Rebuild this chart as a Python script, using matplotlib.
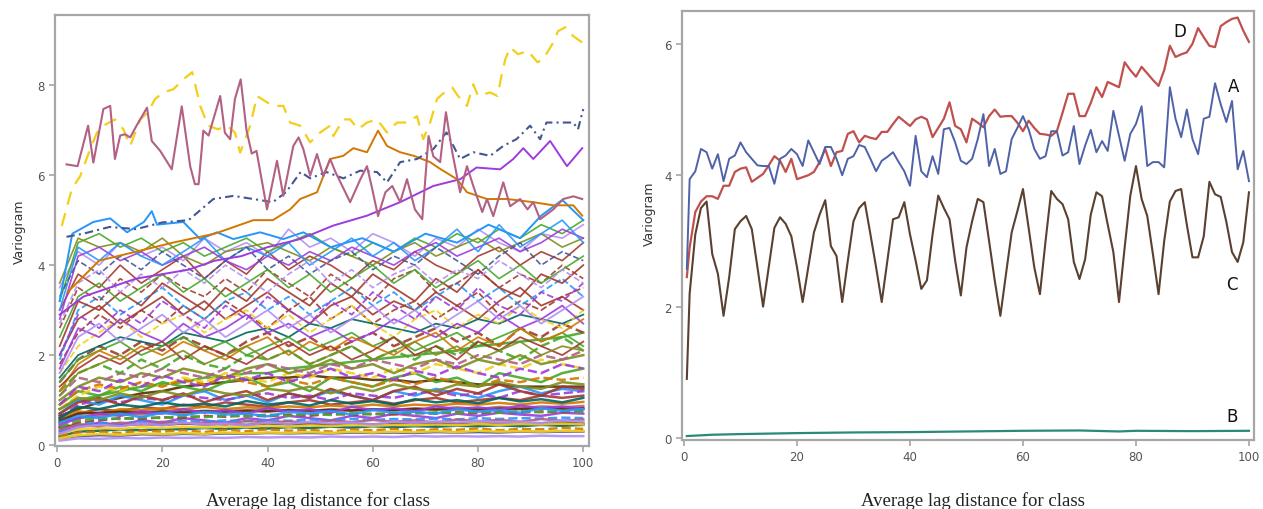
import matplotlib
matplotlib.use("Agg")
import matplotlib.pyplot as plt

# ---------------- right panel: four selected variograms ----------------
lag = [0.5] + list(range(1, 101))

series_a = [2.57, 3.94, 4.06, 4.4, 4.35, 4.1, 4.32, 3.91, 4.25, 4.3, 4.5,
            4.35, 4.25, 4.15, 4.14, 4.14, 3.87, 4.25, 4.3, 4.4, 4.32,
            4.14, 4.53, 4.35, 4.17, 4.43, 4.43, 4.25, 4.0, 4.25, 4.29,
            4.46, 4.43, 4.25, 4.06, 4.22, 4.28, 4.35, 4.2, 4.06, 3.84,
            4.6, 4.06, 3.97, 4.29, 4.02, 4.7, 4.72, 4.5, 4.22, 4.17,
            4.25, 4.55, 4.93, 4.14, 4.4, 4.02, 4.06, 4.55, 4.72, 4.9,
            4.7, 4.4, 4.25, 4.29, 4.67, 4.67, 4.3, 4.35, 4.75, 4.17,
            4.45, 4.69, 4.35, 4.52, 4.37, 4.98, 4.6, 4.22, 4.63, 4.78,
            5.05, 4.14, 4.2, 4.2, 4.12, 5.34, 4.86, 4.58, 5.0, 4.55,
            4.32, 4.86, 4.89, 5.4, 5.08, 4.81, 5.13, 4.09, 4.37, 3.91]

series_c = [0.9, 2.2, 3.1, 3.5, 3.6, 2.8, 2.5, 1.86, 2.45, 3.18, 3.3,
            3.38, 3.18, 2.6, 2.0, 2.6, 3.2, 3.36, 3.26, 3.07, 2.6,
            2.07, 2.6, 3.13, 3.4, 3.62, 2.92, 2.77, 2.07, 2.7, 3.3,
            3.5, 3.59, 3.1, 2.6, 2.07, 2.7, 3.33, 3.36, 3.59, 3.1,
            2.7, 2.27, 2.4, 3.1, 3.69, 3.5, 3.33, 2.7, 2.17, 2.9,
            3.3, 3.64, 3.59, 3.0, 2.4, 1.86, 2.5, 3.13, 3.45, 3.79,
            3.2, 2.6, 2.19, 3.0, 3.76, 3.64, 3.56, 3.33, 2.68, 2.42,
            2.72, 3.4, 3.74, 3.68, 3.25, 2.83, 2.07, 2.9, 3.69, 4.14,
            3.64, 3.38, 2.8, 2.19, 3.0, 3.6, 3.76, 3.79, 3.25, 2.75,
            2.75, 3.07, 3.9, 3.71, 3.67, 3.29, 2.83, 2.68, 2.98, 3.74]

series_d = [2.45, 2.9, 3.44, 3.6, 3.68, 3.68, 3.64, 3.84, 3.84, 4.05, 4.1,
            4.12, 3.9, 3.96, 4.02, 4.15, 4.29, 4.22, 4.05, 4.25, 3.94,
            3.97, 4.0, 4.05, 4.2, 4.4, 4.14, 4.35, 4.37, 4.63, 4.67,
            4.5, 4.6, 4.57, 4.55, 4.66, 4.66, 4.78, 4.89, 4.82, 4.75,
            4.85, 4.89, 4.85, 4.58, 4.72, 4.86, 5.11, 4.75, 4.7, 4.5,
            4.86, 4.8, 4.73, 4.9, 5.0, 4.89, 4.9, 4.9, 4.8, 4.67,
            4.83, 4.72, 4.63, 4.62, 4.6, 4.67, 4.95, 5.24, 5.24, 4.9,
            4.9, 5.1, 5.34, 5.19, 5.42, 5.38, 5.34, 5.72, 5.6, 5.5,
            5.65, 5.55, 5.45, 5.36, 5.6, 5.97, 5.8, 5.84, 5.87, 6.0,
            6.24, 6.1, 5.97, 5.95, 6.27, 6.33, 6.38, 6.4, 6.2, 6.03]

lag_b = [0.5, 5, 10, 20, 30, 40, 50, 60, 70, 77, 80, 90, 100]
series_b = [0.03, 0.05, 0.06, 0.075, 0.085, 0.09, 0.1, 0.11, 0.115, 0.1,
            0.11, 0.105, 0.11]

# ---------------- left panel: all variograms ----------------
# prominent upper curves, each with its own lag positions
pink_x = [1.8, 3.9, 5.9, 6.9, 8.8, 10.1, 11, 12, 12.9, 13.9, 15.1, 17.1, 18,
          19.6, 21.8, 23.7, 25.3, 26.2, 26.9, 27.8, 28.8, 31, 31.9, 32.9,
          33.8, 34.9, 36, 37, 37.9, 39.9, 41.8, 43, 44.9, 45.9, 46.8, 48.1,
          49.4, 50.6, 51.9, 52.9, 54.2, 55.7, 57.6, 58.9, 59.9, 61, 62.4,
          63.7, 65.2, 66.5, 68, 69.4, 70.6, 71.5, 72.8, 73.9, 75.1, 76.6,
          77.9, 79.1, 80.8, 81.7, 82.9, 84.8, 86.1, 88, 89.4, 90.5, 91.8,
          94.3, 96.2, 98.1, 99.8]
pink_y = [6.24, 6.2, 7.1, 6.28, 7.47, 7.54, 6.36, 6.88, 6.91, 6.84, 7.1,
          7.5, 6.76, 6.54, 6.13, 7.53, 6.2, 5.8, 5.8, 6.99, 6.88, 7.76,
          6.94, 6.8, 7.69, 8.13, 7.0, 6.48, 6.54, 5.24, 6.32, 5.54, 6.65,
          6.84, 6.58, 5.99, 6.47, 5.98, 6.36, 6.07, 5.76, 5.4, 5.9, 6.2,
          5.69, 5.09, 5.62, 5.76, 5.4, 5.91, 5.24, 5.02, 6.87, 6.42, 6.29,
          7.4, 6.51, 5.62, 6.2, 5.76, 5.18, 5.47, 5.09, 5.84, 5.31, 5.47,
          5.24, 5.4, 5.02, 5.24, 5.47, 5.53, 5.47]

yellow_x = [0.9, 2.8, 4.4, 6.3, 7.6, 8.8, 11, 12.6, 13.9, 15.8, 17.3, 18.6,
            20.2, 22.1, 24, 25.7, 27.2, 28.7, 30.6, 32.3, 33.8, 34.8, 36.7,
            38, 39.9, 41.1, 43, 44.3, 46.2, 48.1, 50, 51.9, 52.5, 54.4,
            55.7, 57.2, 58.9, 60.8, 62.7, 64.6, 66.5, 68.4, 69.6, 70.9,
            72.2, 73.2, 75.1, 76.2, 77.9, 79.1, 80, 82.3, 83.7, 84.6, 85.2,
            86.1, 87.6, 89.5, 91.3, 92.4, 94.3, 95.2, 96.6, 98.1, 99.8]
yellow_y = [4.87, 5.69, 5.98, 6.58, 6.95, 7.1, 7.24, 7.02, 6.65, 7.24, 7.4,
            7.69, 7.84, 7.91, 8.13, 8.29, 7.54, 7.1, 7.02, 7.1, 6.95, 6.5,
            7.1, 7.76, 7.62, 7.54, 7.54, 7.17, 7.1, 6.73, 6.95, 7.1, 6.87,
            7.24, 7.24, 7.02, 7.17, 7.24, 6.95, 7.17, 7.17, 7.31, 6.8, 7.17,
            7.69, 7.8, 7.95, 7.76, 7.54, 8.02, 7.76, 7.84, 7.76, 8.29, 8.58,
            8.84, 8.69, 8.76, 8.51, 8.58, 8.95, 9.2, 9.29, 9.09, 8.95]

navy_x = [1.8, 5, 10, 15, 20, 25, 29.7, 33.5, 37.3, 41, 43.5, 46.3, 48.1,
          51.2, 54.4, 57.6, 60.8, 62.7, 65.2, 68.4, 71.5, 74, 76.6, 79.1,
          82.3, 84.8, 87.3, 89.9, 91.8, 93, 95.5, 98.1, 99, 100]
navy_y = [4.63, 4.7, 4.85, 4.8, 4.95, 5.0, 5.47, 5.54, 5.47, 5.4, 5.62,
          6.07, 5.93, 6.07, 5.93, 6.1, 6.07, 5.84, 6.29, 6.36, 6.58, 6.95,
          6.36, 6.51, 6.43, 6.65, 6.8, 7.1, 6.8, 7.17, 7.17, 7.17, 7.02,
          7.47]

orange_x = [2, 8, 15, 22, 30, 37.3, 41, 44.3, 46.2, 49.4, 51.9, 54.4, 56.3,
            58.9, 61, 62.7, 65.2, 67.8, 70.9, 72.8, 76, 77.9, 81.7, 85.5,
            90.5, 94.3, 98.1, 99.8]
orange_y = [3.4, 4.1, 4.3, 4.5, 4.7, 5.0, 5.0, 5.24, 5.47, 5.62, 6.36, 6.43,
            6.6, 6.51, 6.99, 6.65, 6.51, 6.43, 6.29, 6.14, 5.91, 5.62, 5.47,
            5.47, 5.4, 5.33, 5.33, 5.1]

violet_x = [0.5, 5, 10, 15, 20, 25, 30, 35, 40, 46.2, 52.5, 58.9, 65.2,
            71.5, 76.6, 79.7, 84.2, 86.7, 88.6, 90.5, 93.7, 96.9, 99.8]
violet_y = [2.9, 3.3, 3.5, 3.7, 3.8, 3.9, 4.1, 4.2, 4.4, 4.58, 4.88, 5.1,
            5.4, 5.76, 5.91, 6.17, 6.13, 6.36, 6.6, 6.36, 6.76, 6.2, 6.6]

sky_x = [0.5, 2.9, 6.9, 10.1, 13.3, 16.5, 18, 19, 24, 27.2, 30.4, 33.5,
         38.6, 43, 46.8, 52, 58, 64, 70, 76, 82, 88, 92, 96, 100]
sky_y = [3.2, 4.7, 4.96, 5.04, 4.73, 4.96, 5.2, 4.9, 4.96, 4.58, 4.73, 4.58,
         4.73, 4.58, 4.73, 4.4, 4.6, 4.3, 4.7, 4.5, 4.9, 4.6, 5.1, 5.45, 5.0]

# background curves on a common lag grid
lag_bg = [0.5] + list(range(4, 101, 4))

upper_band = [
    [3.0, 3.8, 3.5, 4.0, 3.6, 3.9, 4.2, 3.7, 4.1, 3.8, 4.3, 3.9, 4.2, 4.0, 3.7, 4.1, 3.9, 4.3, 4.0, 3.8, 4.2, 4.4, 4.0, 4.3, 4.1, 4.5],
    [3.5, 4.3, 4.0, 4.5, 4.2, 4.4, 4.1, 4.6, 4.3, 4.5, 4.2, 4.8, 4.4, 4.6, 4.3, 4.7, 4.5, 4.2, 4.6, 4.4, 4.8, 4.5, 4.3, 4.7, 4.6, 4.9],
    [3.2, 4.5, 4.7, 4.4, 4.6, 4.3, 4.5, 4.2, 4.4, 4.6, 4.3, 4.5, 4.7, 4.4, 4.2, 4.5, 4.3, 4.6, 4.4, 4.7, 4.5, 4.8, 4.6, 4.9, 4.7, 5.0],
    [3.6, 4.6, 4.4, 4.5, 4.3, 4.6, 4.2, 4.0, 4.3, 4.4, 4.5, 4.3, 4.1, 4.4, 4.2, 4.0, 4.3, 4.5, 4.2, 4.4, 4.6, 4.3, 4.5, 4.7, 4.4, 4.6],
    [2.8, 4.2, 4.4, 4.1, 4.3, 4.0, 4.2, 4.4, 4.1, 3.9, 4.2, 4.0, 4.3, 4.1, 4.4, 4.2, 4.0, 4.3, 4.5, 4.2, 4.4, 4.6, 4.3, 4.5, 4.8, 4.6],
    [3.0, 4.4, 4.1, 4.5, 4.2, 4.0, 4.3, 4.6, 4.1, 4.4, 4.2, 4.5, 4.0, 4.3, 4.6, 4.2, 4.5, 4.1, 4.4, 4.8, 4.3, 4.9, 4.4, 4.7, 5.0, 4.5],
    [3.3, 4.1, 3.8, 4.2, 3.9, 4.3, 4.0, 3.7, 4.1, 4.4, 3.9, 4.2, 3.8, 4.1, 4.3, 3.9, 4.2, 4.0, 4.4, 4.1, 3.8, 4.2, 4.5, 4.0, 4.3, 4.1],
    [2.6, 3.5, 3.2, 3.7, 3.4, 3.8, 3.5, 3.3, 3.7, 3.4, 3.9, 3.6, 3.3, 3.8, 3.5, 3.2, 3.7, 3.9, 3.4, 3.6, 3.9, 3.5, 3.8, 3.6, 4.0, 3.7],
    [2.4, 3.3, 3.6, 3.2, 3.5, 3.8, 3.4, 3.7, 3.3, 3.6, 3.9, 3.5, 3.8, 3.4, 3.7, 4.0, 3.6, 3.9, 3.5, 3.8, 4.1, 3.7, 4.0, 3.6, 3.9, 4.2],
    [2.7, 3.6, 3.9, 3.4, 3.8, 3.5, 3.9, 3.6, 4.0, 3.7, 3.4, 3.8, 4.1, 3.6, 3.9, 3.5, 3.8, 4.0, 3.6, 3.9, 3.7, 4.1, 3.8, 3.5, 3.9, 3.6],
]

mid_band = [
    [2.0, 2.8, 3.1, 2.7, 3.0, 3.3, 2.9, 3.2, 2.8, 3.1, 3.4, 3.0, 2.7, 3.1, 3.3, 2.9, 3.2, 3.0, 3.4, 3.1, 2.8, 3.2, 3.5, 3.1, 3.3, 3.0],
    [1.8, 2.5, 2.9, 2.6, 3.0, 2.7, 3.1, 2.8, 3.2, 2.9, 2.6, 3.0, 3.3, 2.8, 3.1, 2.7, 3.0, 3.2, 2.8, 3.1, 3.4, 2.9, 3.2, 3.0, 3.3, 3.5],
    [1.5, 2.0, 2.2, 2.4, 2.3, 2.2, 2.5, 2.4, 2.3, 2.5, 2.6, 2.4, 2.7, 2.6, 2.8, 2.7, 2.6, 2.5, 2.7, 2.6, 2.8, 2.7, 2.9, 2.8, 2.7, 2.9],
    [1.6, 2.2, 2.5, 2.8, 2.4, 2.7, 2.9, 2.5, 2.8, 3.0, 2.6, 2.9, 2.5, 2.8, 3.1, 2.7, 2.4, 2.8, 3.0, 2.6, 2.9, 2.7, 3.1, 2.8, 2.6, 3.0],
    [1.4, 1.9, 2.1, 2.3, 2.0, 2.2, 2.4, 2.1, 2.3, 2.0, 2.2, 2.4, 2.1, 2.3, 2.5, 2.2, 2.4, 2.1, 2.3, 2.5, 2.2, 2.4, 2.6, 2.3, 2.5, 2.2],
    [1.7, 2.6, 2.4, 2.8, 2.5, 2.3, 2.7, 2.4, 2.6, 2.9, 2.5, 2.7, 2.4, 2.6, 2.3, 2.5, 2.8, 2.6, 2.4, 2.7, 2.5, 2.9, 2.6, 2.8, 3.1, 2.7],
    [1.2, 1.8, 2.1, 1.9, 2.2, 2.0, 2.3, 2.1, 1.9, 2.2, 2.4, 2.0, 2.3, 2.1, 2.4, 2.2, 2.0, 2.3, 2.5, 2.1, 2.4, 2.2, 2.6, 2.3, 2.5, 2.8],
    [1.3, 1.7, 2.0, 1.8, 2.1, 2.3, 1.9, 2.2, 2.0, 1.8, 2.1, 2.3, 2.0, 2.2, 1.9, 2.1, 2.4, 2.0, 2.2, 1.9, 2.3, 2.1, 2.4, 2.2, 2.0, 2.3],
    [1.9, 3.0, 3.3, 2.9, 3.2, 3.5, 3.1, 2.8, 3.2, 3.4, 3.0, 3.3, 2.9, 3.2, 3.5, 3.1, 3.4, 3.0, 3.3, 3.6, 3.2, 3.5, 3.1, 3.4, 3.7, 3.3],
    [1.1, 1.6, 1.8, 2.0, 1.7, 1.9, 2.1, 1.8, 2.0, 2.2, 1.9, 2.1, 1.8, 2.0, 2.2, 1.9, 2.1, 2.3, 2.0, 2.2, 1.9, 2.1, 2.3, 2.0, 2.2, 2.1],
    [2.2, 3.2, 3.0, 3.4, 3.1, 3.6, 3.3, 3.0, 3.5, 3.2, 3.7, 3.4, 3.1, 3.6, 3.3, 3.8, 3.5, 3.2, 3.7, 3.4, 3.9, 3.5, 3.3, 3.8, 3.6, 4.0],
    [1.6, 2.4, 2.7, 2.3, 2.6, 2.9, 2.5, 2.8, 2.4, 2.7, 3.0, 2.6, 2.9, 2.5, 2.8, 3.1, 2.7, 3.0, 2.6, 2.9, 3.2, 2.8, 3.1, 2.7, 3.0, 3.3],
    [2.0, 2.9, 2.6, 3.0, 2.7, 3.2, 2.9, 2.6, 3.1, 2.8, 3.3, 3.0, 2.7, 3.2, 2.9, 3.4, 3.1, 2.8, 3.3, 3.0, 3.5, 3.1, 2.9, 3.4, 3.2, 3.6],
]

low_band = [
    [0.8, 1.0, 1.1, 1.2, 1.3, 1.35, 1.4, 1.5, 1.5, 1.6, 1.6, 1.7, 1.75, 1.8, 1.85, 1.9, 1.95, 2.0, 2.05, 2.1, 2.2, 2.25, 2.3, 2.35, 2.4, 2.5],
    [0.65, 0.8, 0.95, 1.05, 1.15, 1.2, 1.3, 1.35, 1.4, 1.45, 1.5, 1.5, 1.55, 1.5, 1.5, 1.45, 1.45, 1.4, 1.45, 1.4, 1.35, 1.35, 1.3, 1.3, 1.3, 1.3],
    [0.5, 0.7, 0.8, 0.75, 0.85, 0.8, 0.9, 0.85, 0.95, 0.9, 0.85, 0.95, 1.0, 0.9, 0.95, 1.0, 0.92, 1.0, 1.05, 0.95, 1.0, 1.05, 1.0, 1.1, 1.05, 1.1],
    [0.6, 0.75, 0.7, 0.8, 0.78, 0.82, 0.8, 0.85, 0.8, 0.84, 0.82, 0.86, 0.84, 0.88, 0.85, 0.9, 0.86, 0.9, 0.88, 0.92, 0.9, 0.94, 0.9, 0.95, 0.92, 0.96],
    [0.4, 0.45, 0.46, 0.44, 0.47, 0.45, 0.48, 0.46, 0.47, 0.45, 0.48, 0.46, 0.47, 0.45, 0.48, 0.46, 0.47, 0.49, 0.46, 0.48, 0.47, 0.49, 0.47, 0.48, 0.5, 0.48],
    [0.3, 0.4, 0.5, 0.45, 0.55, 0.5, 0.6, 0.55, 0.5, 0.6, 0.55, 0.65, 0.6, 0.55, 0.65, 0.6, 0.7, 0.65, 0.6, 0.7, 0.65, 0.72, 0.68, 0.65, 0.72, 0.7],
    [0.9, 1.2, 1.1, 1.3, 1.2, 1.4, 1.3, 1.2, 1.4, 1.5, 1.3, 1.4, 1.2, 1.5, 1.4, 1.3, 1.5, 1.6, 1.4, 1.5, 1.3, 1.6, 1.5, 1.4, 1.6, 1.7],
    [0.7, 1.0, 0.9, 1.1, 1.0, 0.9, 1.1, 1.2, 1.0, 1.1, 0.95, 1.15, 1.05, 1.2, 1.1, 1.0, 1.2, 1.1, 1.25, 1.15, 1.05, 1.2, 1.3, 1.15, 1.25, 1.2],
    [0.8, 1.1, 1.3, 1.2, 1.4, 1.3, 1.5, 1.4, 1.6, 1.5, 1.4, 1.6, 1.5, 1.7, 1.6, 1.5, 1.7, 1.6, 1.8, 1.7, 1.6, 1.8, 1.7, 1.9, 1.8, 1.7],
    [0.5, 0.6, 0.65, 0.7, 0.68, 0.72, 0.7, 0.75, 0.72, 0.76, 0.74, 0.78, 0.75, 0.8, 0.77, 0.8, 0.78, 0.82, 0.8, 0.84, 0.8, 0.85, 0.82, 0.86, 0.84, 0.87],
    [0.2, 0.3, 0.32, 0.35, 0.33, 0.36, 0.35, 0.38, 0.36, 0.39, 0.37, 0.4, 0.38, 0.41, 0.39, 0.42, 0.4, 0.42, 0.41, 0.43, 0.42, 0.44, 0.42, 0.45, 0.43, 0.45],
    [0.35, 0.5, 0.55, 0.6, 0.58, 0.62, 0.6, 0.65, 0.63, 0.66, 0.64, 0.68, 0.65, 0.7, 0.67, 0.7, 0.68, 0.72, 0.7, 0.73, 0.71, 0.74, 0.72, 0.75, 0.73, 0.76],
    [1.0, 1.3, 1.5, 1.4, 1.6, 1.5, 1.7, 1.6, 1.5, 1.7, 1.8, 1.6, 1.7, 1.9, 1.7, 1.8, 1.6, 1.8, 1.9, 1.7, 1.9, 1.8, 2.0, 1.8, 1.9, 2.0],
    [0.15, 0.2, 0.22, 0.21, 0.24, 0.23, 0.25, 0.24, 0.26, 0.25, 0.27, 0.26, 0.27, 0.26, 0.28, 0.27, 0.28, 0.27, 0.29, 0.28, 0.29, 0.28, 0.3, 0.29, 0.3, 0.3],
    [0.1, 0.15, 0.14, 0.16, 0.15, 0.17, 0.16, 0.17, 0.16, 0.18, 0.17, 0.18, 0.17, 0.19, 0.18, 0.19, 0.18, 0.2, 0.19, 0.2, 0.19, 0.2, 0.19, 0.21, 0.2, 0.2],
    [0.9, 1.2, 1.35, 1.25, 1.4, 1.3, 1.45, 1.35, 1.5, 1.4, 1.3, 1.45, 1.35, 1.5, 1.4, 1.3, 1.45, 1.35, 1.5, 1.4, 1.3, 1.45, 1.4, 1.5, 1.45, 1.5],
    [0.6, 0.9, 1.0, 0.95, 1.05, 1.0, 1.1, 1.05, 1.0, 1.1, 1.15, 1.05, 1.1, 1.0, 1.15, 1.1, 1.05, 1.15, 1.2, 1.1, 1.15, 1.05, 1.2, 1.1, 1.15, 1.2],
    [0.4, 0.55, 0.6, 0.58, 0.62, 0.6, 0.65, 0.62, 0.66, 0.64, 0.68, 0.65, 0.7, 0.67, 0.71, 0.68, 0.72, 0.7, 0.73, 0.71, 0.74, 0.72, 0.75, 0.73, 0.76, 0.74],
    [0.25, 0.35, 0.38, 0.36, 0.4, 0.38, 0.41, 0.39, 0.42, 0.4, 0.43, 0.41, 0.44, 0.42, 0.45, 0.43, 0.45, 0.44, 0.46, 0.44, 0.47, 0.45, 0.47, 0.46, 0.48, 0.46],
    [0.55, 0.7, 0.72, 0.74, 0.73, 0.75, 0.74, 0.76, 0.75, 0.77, 0.76, 0.78, 0.77, 0.78, 0.77, 0.79, 0.78, 0.8, 0.79, 0.8, 0.79, 0.81, 0.8, 0.82, 0.81, 0.82],
    [0.3, 0.45, 0.5, 0.48, 0.52, 0.5, 0.54, 0.52, 0.55, 0.53, 0.56, 0.54, 0.57, 0.55, 0.58, 0.56, 0.58, 0.57, 0.59, 0.57, 0.6, 0.58, 0.6, 0.59, 0.61, 0.6],
    [1.1, 1.5, 1.4, 1.6, 1.5, 1.7, 1.6, 1.5, 1.7, 1.6, 1.8, 1.7, 1.6, 1.8, 1.7, 1.9, 1.8, 1.7, 1.9, 1.8, 2.0, 1.9, 1.8, 2.0, 1.9, 2.1],
    [0.45, 0.6, 0.7, 0.65, 0.75, 0.7, 0.8, 0.72, 0.78, 0.7, 0.82, 0.75, 0.8, 0.72, 0.85, 0.78, 0.82, 0.75, 0.86, 0.8, 0.84, 0.78, 0.88, 0.82, 0.86, 0.8],
    [0.2, 0.28, 0.3, 0.27, 0.32, 0.3, 0.33, 0.29, 0.34, 0.31, 0.35, 0.32, 0.34, 0.3, 0.35, 0.33, 0.36, 0.32, 0.35, 0.34, 0.37, 0.33, 0.36, 0.35, 0.38, 0.36],
    [0.7, 0.95, 1.05, 0.9, 1.1, 1.0, 1.15, 0.95, 1.1, 1.2, 1.0, 1.15, 1.05, 1.25, 1.1, 1.0, 1.2, 1.3, 1.1, 1.25, 1.15, 1.35, 1.2, 1.1, 1.3, 1.25],
    [0.5, 0.65, 0.6, 0.7, 0.62, 0.72, 0.66, 0.74, 0.68, 0.7, 0.64, 0.74, 0.7, 0.76, 0.68, 0.78, 0.72, 0.74, 0.7, 0.8, 0.74, 0.78, 0.72, 0.82, 0.76, 0.8],
    [1.2, 1.6, 1.8, 1.6, 1.9, 1.7, 2.0, 1.8, 1.7, 2.0, 1.9, 2.1, 1.8, 2.0, 2.2, 1.9, 2.1, 1.9, 2.2, 2.0, 2.3, 2.1, 1.9, 2.2, 2.4, 2.1],
    [0.35, 0.45, 0.42, 0.5, 0.46, 0.52, 0.48, 0.5, 0.46, 0.54, 0.5, 0.53, 0.49, 0.55, 0.51, 0.56, 0.52, 0.55, 0.5, 0.57, 0.53, 0.56, 0.52, 0.58, 0.54, 0.57],
    [0.9, 1.3, 1.2, 1.45, 1.3, 1.55, 1.4, 1.3, 1.55, 1.45, 1.6, 1.4, 1.55, 1.7, 1.5, 1.6, 1.45, 1.65, 1.55, 1.75, 1.6, 1.5, 1.7, 1.6, 1.8, 1.7],
    [0.15, 0.22, 0.25, 0.23, 0.26, 0.24, 0.27, 0.25, 0.28, 0.26, 0.28, 0.27, 0.29, 0.27, 0.3, 0.28, 0.3, 0.29, 0.31, 0.29, 0.32, 0.3, 0.31, 0.3, 0.32, 0.31],
    [0.6, 0.85, 0.8, 0.9, 0.85, 0.95, 0.88, 0.92, 0.86, 0.98, 0.9, 0.95, 0.88, 1.0, 0.92, 0.98, 0.9, 1.02, 0.95, 1.0, 0.93, 1.05, 0.97, 1.02, 0.95, 1.05],
    [1.4, 1.9, 2.2, 2.0, 2.3, 2.1, 2.4, 2.2, 2.0, 2.3, 2.5, 2.2, 2.4, 2.1, 2.3, 2.5, 2.2, 2.4, 2.6, 2.3, 2.5, 2.2, 2.6, 2.4, 2.7, 2.5],
    [0.25, 0.4, 0.45, 0.42, 0.48, 0.44, 0.5, 0.46, 0.48, 0.44, 0.5, 0.47, 0.52, 0.48, 0.5, 0.46, 0.52, 0.49, 0.53, 0.5, 0.54, 0.5, 0.52, 0.49, 0.55, 0.52],
    [0.8, 1.05, 1.0, 1.15, 1.05, 1.2, 1.1, 1.25, 1.15, 1.1, 1.25, 1.2, 1.3, 1.15, 1.3, 1.2, 1.35, 1.25, 1.2, 1.35, 1.3, 1.4, 1.3, 1.25, 1.4, 1.35],
]

# SAS-like colour cycle
SAS = {"navy": "#445694", "brick": "#A23A2E", "teal": "#01665E",
       "dbrown": "#543005", "violet": "#9D3CDB", "olive": "#7F8E1F",
       "sky": "#2597FA", "mauve": "#B26084", "orange": "#D17800",
       "green": "#47A82A", "lilac": "#B38EF3", "yellow": "#F2CF1A"}

upper_style = [("brick", "-"), ("lilac", "-"), ("green", "-"), ("olive", "-"),
               ("violet", "-"), ("sky", "-"), ("navy", "--"), ("brick", "--"),
               ("green", "-"), ("lilac", "--")]
mid_style = [("brick", "-"), ("brick", "--"), ("teal", "-"), ("yellow", "--"),
             ("green", "-"), ("violet", "-"), ("orange", "-"), ("brick", "-"),
             ("sky", "--"), ("olive", "-"), ("brick", "-"), ("lilac", "-"),
             ("violet", "--")]
low_style = [("green", "-"), ("dbrown", "-"), ("brick", "-"), ("orange", "-"),
             ("dbrown", "-"), ("violet", "-"), ("green", "-"), ("sky", "-"),
             ("yellow", "--"), ("mauve", "-"), ("teal", "-"), ("brick", "--"),
             ("olive", "-"), ("navy", "-"), ("lilac", "-"), ("orange", "--"),
             ("violet", "--"), ("green", "--"), ("yellow", "-"), ("dbrown", "-"),
             ("sky", "--"), ("mauve", "--"), ("violet", "-"), ("orange", "--"),
             ("brick", "-"), ("sky", "-"), ("green", "--"), ("mauve", "-"),
             ("violet", "--"), ("yellow", "-"), ("teal", "-"), ("brick", "--"),
             ("lilac", "-"), ("olive", "-")]

TICK_COLOR = "#555555"
SPINE_COLOR = "#a6a6a6"


def style_axes(ax):
    for s in ax.spines.values():
        s.set_color(SPINE_COLOR)
        s.set_linewidth(1.6)
    ax.tick_params(axis="both", colors=SPINE_COLOR, labelcolor=TICK_COLOR,
                   labelsize=8.5, length=4, width=1.2, direction="out",
                   top=False, right=False)
    ax.set_xticks([0, 20, 40, 60, 80, 100])
    ax.set_ylabel("Variogram", fontsize=9, color="#333333", labelpad=6)


fig = plt.figure(figsize=(12.63, 5.10), dpi=100)

# ---------- left ----------
ax1 = fig.add_axes([0.0435, 0.1235, 0.4229, 0.8451])
for band, styles, lw in [(low_band, low_style, 1.8), (mid_band, mid_style, 1.3),
                         (upper_band, upper_style, 1.2)]:
    for vals, (c, ls) in zip(band, styles):
        ax1.plot(lag_bg, vals, color=SAS[c], ls=ls, lw=lw, alpha=0.9)

ax1.plot(sky_x, sky_y, color=SAS["sky"], lw=1.4)
ax1.plot(violet_x, violet_y, color=SAS["violet"], lw=1.4)
ax1.plot(orange_x, orange_y, color=SAS["orange"], lw=1.4)
ax1.plot(navy_x, navy_y, color=SAS["navy"], lw=1.5, ls=(0, (4, 2, 1, 2)))
ax1.plot(yellow_x, yellow_y, color=SAS["yellow"], lw=1.6, ls=(0, (6, 4)))
ax1.plot(pink_x, pink_y, color=SAS["mauve"], lw=1.5)

ax1.set_xlim(-0.4, 101.1)
ax1.set_ylim(-0.02, 9.56)
ax1.set_yticks([0, 2, 4, 6, 8])
style_axes(ax1)
ax1.yaxis.set_label_coords(-0.055, 0.5)

# ---------- right ----------
ax2 = fig.add_axes([0.540, 0.1353, 0.4529, 0.8412])
ax2.plot(lag, series_d, color="#c0504d", lw=1.6)
ax2.plot(lag, series_a, color="#4f62a8", lw=1.4)
ax2.plot(lag, series_c, color="#5a4030", lw=1.5)
ax2.plot(lag_b, series_b, color="#2a8a78", lw=1.6)

ax2.set_xlim(-0.35, 100.9)
ax2.set_ylim(-0.03, 6.5)
ax2.set_yticks([0, 2, 4, 6])
style_axes(ax2)
ax2.yaxis.set_label_coords(-0.045, 0.53)

for lab, x, y in [("D", 87.8, 6.2), ("A", 97.2, 5.36), ("C", 97.0, 2.34),
                  ("B", 97.0, 0.33)]:
    ax2.text(x, y, lab, fontsize=12, color="#111111", ha="center", va="center")

# x-axis titles in serif, as in the source figure
fig.text(0.252, 0.018, "Average lag distance for class", fontsize=13.5,
         family="Liberation Serif", color="#222222", ha="center", va="center")
fig.text(0.770, 0.018, "Average lag distance for class", fontsize=13.5,
         family="Liberation Serif", color="#222222", ha="center", va="center")

fig.savefig("out.png", dpi=100)
